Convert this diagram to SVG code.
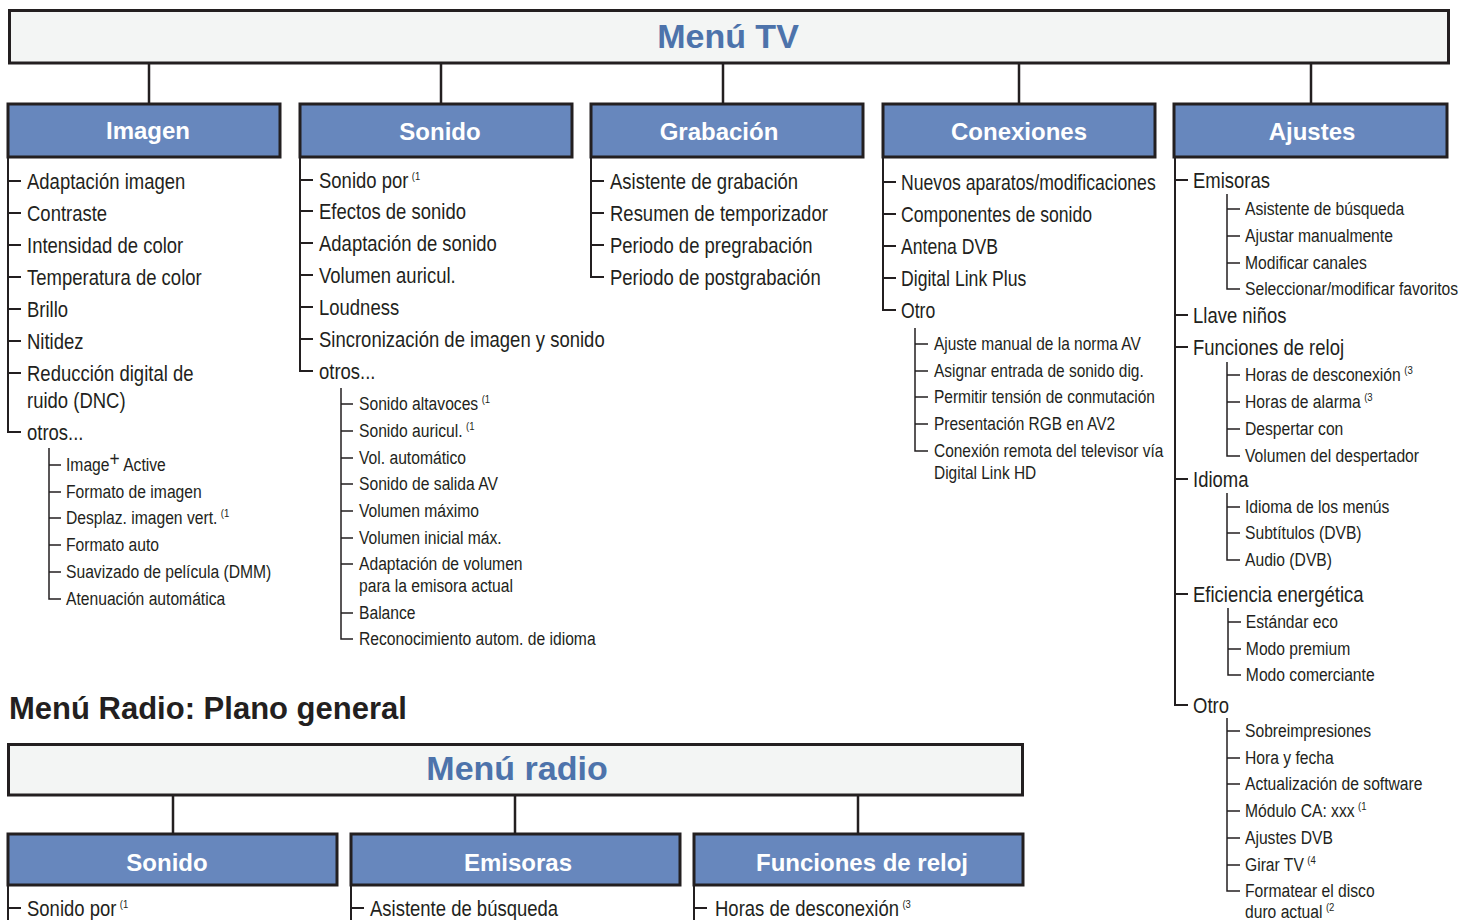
<svg xmlns="http://www.w3.org/2000/svg" width="1461" height="920" viewBox="0 0 1461 920">
<style>
.box{fill:#f3f5f4;stroke:#231f20;stroke-width:3}
.cat{fill:#6787bd;stroke:#231f20;stroke-width:3}
.title{font-family:"Liberation Sans",sans-serif;font-weight:bold;font-size:34px;fill:#4d73ab;text-anchor:middle}
.ct{font-family:"Liberation Sans",sans-serif;font-weight:bold;font-size:24px;fill:#ffffff;text-anchor:middle}
.h{font-family:"Liberation Sans",sans-serif;font-weight:bold;font-size:31px;fill:#231f20}
.t{font-family:"Liberation Sans Narrow","Liberation Sans",sans-serif;font-size:21.5px;fill:#231f20}
.s{font-family:"Liberation Sans Narrow","Liberation Sans",sans-serif;font-size:18px;fill:#231f20}
.sup{font-size:11px}
.tr{fill:none;stroke:#231f20;stroke-width:2}
.tr2{fill:none;stroke:#231f20;stroke-width:1.5}
.cn{fill:none;stroke:#231f20;stroke-width:2.5}
</style>
<g id="connectors">
<path class="cn" d="M149,63V104M441,63V104M723,63V104M1019,63V104M1311,63V104M173,795V834M515,795V834M858,795V834"/>
</g>
<g id="menu-tv">
<rect class="box" x="9.5" y="10.5" width="1439" height="52.5"/>
<text class="title" x="728" y="48">Menú TV</text>
</g>
<g id="imagen">
<rect class="cat" x="8" y="104" width="272" height="53"/>
<text class="ct" x="148" y="139">Imagen</text>
<path class="tr" d="M8,157V432H21M8,181H21M8,213H21M8,245H21M8,277H21M8,309H21M8,341H21M8,373H21"/>
<g transform="translate(27,0) scale(0.86,1)">
<text class="t" x="0" y="189">Adaptación imagen</text>
<text class="t" x="0" y="221">Contraste</text>
<text class="t" x="0" y="253">Intensidad de color</text>
<text class="t" x="0" y="285">Temperatura de color</text>
<text class="t" x="0" y="317">Brillo</text>
<text class="t" x="0" y="349">Nitidez</text>
<text class="t" x="0" y="381">Reducción digital de</text>
<text class="t" x="0" y="408">ruido (DNC)</text>
<text class="t" x="0" y="440">otros...</text>
</g>
<path class="tr2" d="M49,448V599H61M49,465H61M49,492H61M49,518H61M49,545H61M49,572H61"/>
<g transform="translate(66,0) scale(0.87,1)">
<text class="s" x="0" y="471">Image<tspan font-size="20" dy="-5">+</tspan><tspan dy="5"> Active</tspan></text>
<text class="s" x="0" y="498">Formato de imagen</text>
<text class="s" x="0" y="524">Desplaz. imagen vert.<tspan class="sup" dx="4" dy="-7">(1</tspan></text>
<text class="s" x="0" y="551">Formato auto</text>
<text class="s" x="0" y="578">Suavizado de película (DMM)</text>
<text class="s" x="0" y="605">Atenuación automática</text>
</g>
</g>
<g id="sonido">
<rect class="cat" x="300" y="104" width="272" height="53"/>
<text class="ct" x="440" y="140">Sonido</text>
<path class="tr" d="M300,157V371H313M300,180H313M300,211H313M300,243H313M300,275H313M300,307H313M300,339H313"/>
<g transform="translate(319,0) scale(0.86,1)">
<text class="t" x="0" y="188">Sonido por<tspan class="sup" dx="4" dy="-8">(1</tspan></text>
<text class="t" x="0" y="219">Efectos de sonido</text>
<text class="t" x="0" y="251">Adaptación de sonido</text>
<text class="t" x="0" y="283">Volumen auricul.</text>
<text class="t" x="0" y="315">Loudness</text>
<text class="t" x="0" y="347">Sincronización de imagen y sonido</text>
<text class="t" x="0" y="379">otros...</text>
</g>
<path class="tr2" d="M341,388V639H353M341,404H353M341,431H353M341,458H353M341,484H353M341,511H353M341,538H353M341,564H353M341,613H353"/>
<g transform="translate(359,0) scale(0.87,1)">
<text class="s" x="0" y="410">Sonido altavoces<tspan class="sup" dx="4" dy="-7">(1</tspan></text>
<text class="s" x="0" y="437">Sonido auricul.<tspan class="sup" dx="4" dy="-7">(1</tspan></text>
<text class="s" x="0" y="464">Vol. automático</text>
<text class="s" x="0" y="490">Sonido de salida AV</text>
<text class="s" x="0" y="517">Volumen máximo</text>
<text class="s" x="0" y="544">Volumen inicial máx.</text>
<text class="s" x="0" y="570">Adaptación de volumen</text>
<text class="s" x="0" y="592">para la emisora actual</text>
<text class="s" x="0" y="619">Balance</text>
<text class="s" x="0" y="645">Reconocimiento autom. de idioma</text>
</g>
</g>
<g id="grabacion">
<rect class="cat" x="591" y="104" width="272" height="53"/>
<text class="ct" x="719" y="140">Grabación</text>
<path class="tr" d="M591,157V277H604M591,181H604M591,213H604M591,245H604"/>
<g transform="translate(610,0) scale(0.86,1)">
<text class="t" x="0" y="189">Asistente de grabación</text>
<text class="t" x="0" y="221">Resumen de temporizador</text>
<text class="t" x="0" y="253">Periodo de pregrabación</text>
<text class="t" x="0" y="285">Periodo de postgrabación</text>
</g>
</g>
<g id="conexiones">
<rect class="cat" x="883" y="104" width="272" height="53"/>
<text class="ct" x="1019" y="140">Conexiones</text>
<path class="tr" d="M883,157V310H896M883,182H896M883,214H896M883,246H896M883,278H896"/>
<g transform="translate(901,0) scale(0.82,1)">
<text class="t" x="0" y="190">Nuevos aparatos/modificaciones</text>
<text class="t" x="0" y="222">Componentes de sonido</text>
<text class="t" x="0" y="254">Antena DVB</text>
<text class="t" x="0" y="286">Digital Link Plus</text>
<text class="t" x="0" y="318">Otro</text>
</g>
<path class="tr2" d="M915,328V451H928M915,344H928M915,371H928M915,397H928M915,424H928"/>
<g transform="translate(934,0) scale(0.86,1)">
<text class="s" x="0" y="350">Ajuste manual de la norma AV</text>
<text class="s" x="0" y="377">Asignar entrada de sonido dig.</text>
<text class="s" x="0" y="403">Permitir tensión de conmutación</text>
<text class="s" x="0" y="430">Presentación RGB en AV2</text>
<text class="s" x="0" y="457">Conexión remota del televisor vía</text>
<text class="s" x="0" y="479">Digital Link HD</text>
</g>
</g>
<g id="ajustes">
<rect class="cat" x="1174" y="104" width="273" height="53"/>
<text class="ct" x="1312" y="140">Ajustes</text>
<path class="tr" d="M1175,157V705H1188M1175,180H1188M1175,315H1188M1175,347H1188M1175,479H1188M1175,594H1188"/>
<g transform="translate(1193,0) scale(0.86,1)">
<text class="t" x="0" y="188">Emisoras</text>
<text class="t" x="0" y="323">Llave niños</text>
<text class="t" x="0" y="355">Funciones de reloj</text>
<text class="t" x="0" y="487">Idioma</text>
<text class="t" x="0" y="602">Eficiencia energética</text>
<text class="t" x="0" y="713">Otro</text>
</g>
<path class="tr2" d="M1227,194V289H1240M1227,209H1240M1227,236H1240M1227,263H1240"/>
<path class="tr2" d="M1227,362V456H1240M1227,375H1240M1227,402H1240M1227,429H1240"/>
<path class="tr2" d="M1227,493V560H1240M1227,507H1240M1227,533H1240"/>
<path class="tr2" d="M1228,608V675H1241M1228,622H1241M1228,649H1241"/>
<path class="tr2" d="M1227,718V891H1240M1227,731H1240M1227,758H1240M1227,784H1240M1227,811H1240M1227,838H1240M1227,865H1240"/>
<g transform="translate(1245,0) scale(0.87,1)">
<text class="s" x="0" y="215">Asistente de búsqueda</text>
<text class="s" x="0" y="242">Ajustar manualmente</text>
<text class="s" x="0" y="269">Modificar canales</text>
<text class="s" x="0" y="295">Seleccionar/modificar favoritos</text>
<text class="s" x="0" y="381">Horas de desconexión<tspan class="sup" dx="4" dy="-7">(3</tspan></text>
<text class="s" x="0" y="408">Horas de alarma<tspan class="sup" dx="4" dy="-7">(3</tspan></text>
<text class="s" x="0" y="435">Despertar con</text>
<text class="s" x="0" y="462">Volumen del despertador</text>
<text class="s" x="0" y="513">Idioma de los menús</text>
<text class="s" x="0" y="539">Subtítulos (DVB)</text>
<text class="s" x="0" y="566">Audio (DVB)</text>
<text class="s" x="1" y="628">Estándar eco</text>
<text class="s" x="1" y="655">Modo premium</text>
<text class="s" x="1" y="681">Modo comerciante</text>
<text class="s" x="0" y="737">Sobreimpresiones</text>
<text class="s" x="0" y="764">Hora y fecha</text>
<text class="s" x="0" y="790">Actualización de software</text>
<text class="s" x="0" y="817">Módulo CA: xxx<tspan class="sup" dx="4" dy="-7">(1</tspan></text>
<text class="s" x="0" y="844">Ajustes DVB</text>
<text class="s" x="0" y="871">Girar TV<tspan class="sup" dx="4" dy="-7">(4</tspan></text>
<text class="s" x="0" y="897">Formatear el disco</text>
<text class="s" x="0" y="918">duro actual<tspan class="sup" dx="4" dy="-7">(2</tspan></text>
</g>
</g>
<g id="radio-heading">
<text class="h" x="9" y="719">Menú Radio: Plano general</text>
</g>
<g id="menu-radio">
<rect class="box" x="8.5" y="744.5" width="1014" height="50.5"/>
<text class="title" x="517" y="780">Menú radio</text>
</g>
<g id="radio-sonido">
<rect class="cat" x="8" y="834" width="329" height="51"/>
<text class="ct" x="167" y="871">Sonido</text>
<path class="tr" d="M8,885V920M8,908H21"/>
<text class="t" transform="translate(27,916) scale(0.86,1)" x="0" y="0">Sonido por<tspan class="sup" dx="4" dy="-8">(1</tspan></text>
</g>
<g id="radio-emisoras">
<rect class="cat" x="351" y="834" width="329" height="51"/>
<text class="ct" x="518" y="871">Emisoras</text>
<path class="tr" d="M351,885V920M351,908H364"/>
<text class="t" transform="translate(370,916) scale(0.86,1)" x="0" y="0">Asistente de búsqueda</text>
</g>
<g id="radio-funciones">
<rect class="cat" x="694" y="834" width="329" height="51"/>
<text class="ct" x="862" y="871">Funciones de reloj</text>
<path class="tr" d="M694,885V920M694,908H707"/>
<text class="t" transform="translate(715,916) scale(0.86,1)" x="0" y="0">Horas de desconexión<tspan class="sup" dx="4" dy="-8">(3</tspan></text>
</g>
</svg>
